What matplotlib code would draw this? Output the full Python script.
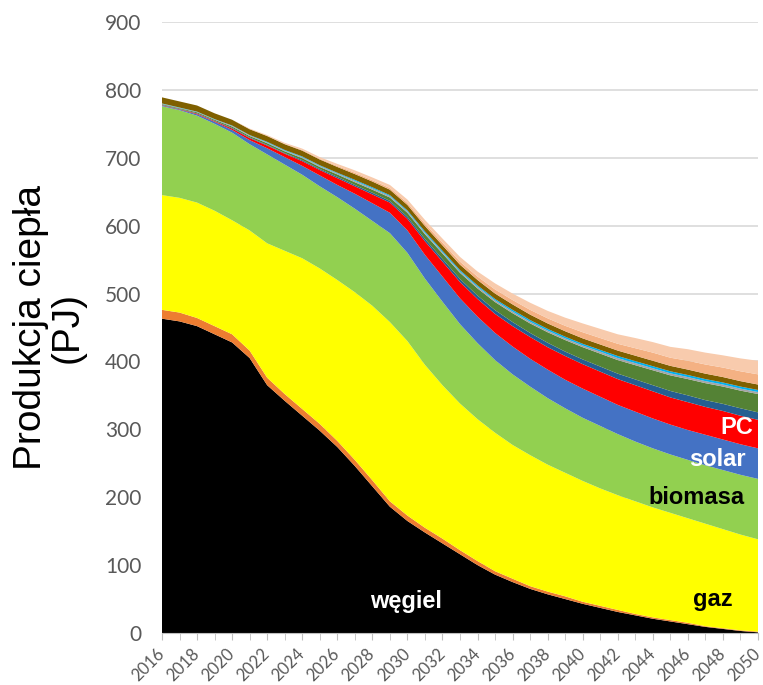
import numpy as np
import matplotlib.pyplot as plt

years = list(range(2016, 2051))

wegiel = [463, 459, 452, 440, 428, 405, 365, 342, 320, 298, 274, 246, 216, 186, 165,
          148, 132, 116, 100, 86, 75, 65, 57, 50, 43, 37, 31, 26, 21, 17, 13, 9, 6, 3, 1]
inne_wegiel = [13, 13, 12, 12, 12, 11, 11, 10, 10, 10, 9, 9, 9, 8, 8,
               7, 7, 6, 6, 5, 5, 4, 4, 4, 3, 3, 3, 2, 2, 2, 2, 1, 1, 1, 1]
# cumulative tops
gaz_top = [645, 641, 634, 622, 608, 593, 574, 563, 552, 537, 520, 502, 482, 458, 430,
           395, 365, 338, 315, 295, 277, 262, 248, 236, 224, 213, 203, 194, 185, 177,
           169, 161, 153, 145, 138]
biomasa_top = [776, 770, 762, 750, 737, 720, 705, 690, 675, 658, 642, 625, 607, 589, 560,
               522, 488, 455, 427, 402, 381, 363, 346, 331, 317, 305, 293, 282, 272, 263,
               255, 247, 240, 233, 227]
solar = [1, 1, 2, 3, 4, 6, 9, 11, 13, 16, 18, 22, 26, 30, 33,
         35, 37, 38, 39, 40, 41, 41, 42, 42, 43, 43, 43, 44, 44, 44, 44, 45, 45, 45, 45]
pc = [0.5, 0.5, 1, 1, 2, 3, 4, 5, 7, 8, 10, 11, 13, 15, 17,
      20, 22, 24, 26, 28, 30, 32, 33, 35, 36, 37, 38, 39, 40, 40, 41, 41, 42, 42, 42]
inne1 = [0.5, 0.5, 0.5, 0.5, 1, 1, 1, 1, 1.5, 1.5, 2, 2, 2.5, 2.5, 3,
         3.5, 4, 4.5, 5, 5.5, 6, 6, 6.5, 6.5, 7, 7.5, 8, 8.5, 9, 9.5, 10, 10, 10.5, 11, 11]
inne2 = [1, 1, 1.5, 1.5, 2, 2, 2.5, 2.5, 3, 3, 3.5, 4, 4.5, 5, 6,
         7, 8, 9, 10.5, 12, 13, 14, 15.5, 17, 18, 19, 20, 21, 22, 23, 24, 25, 25.5, 26, 27]
inne3 = [0.5, 0.5, 0.5, 0.5, 1, 1, 1, 1, 1.5, 1.5, 1.5, 2, 2, 2, 2,
         2, 2, 2, 2.5, 2.5, 2.5, 2.5, 2.5, 2.5, 2.5, 3, 3, 3, 3, 3, 3, 3, 3, 3, 3]
inne4 = [0.5, 0.5, 0.5, 0.5, 0.5, 0.5, 1, 1, 1, 1, 1, 1.5, 1.5, 1.5, 1.5,
         2, 2, 2, 2, 2, 2.5, 2.5, 2.5, 2.5, 2.5, 2.5, 3, 3, 3, 3, 3, 3, 3, 3, 3]
inne5 = [9, 9, 9, 8.5, 8.5, 8.5, 8.5, 8.5, 8.5, 8.5, 8.5, 8.5, 8.5, 8, 8,
         8, 8, 8, 8, 8, 8, 8, 8, 8, 8, 8, 8, 8, 8, 8, 8, 8, 8, 8, 8]
inne6 = [0, 0, 0, 0, 0, 0.5, 0.5, 0.5, 1, 1, 1.5, 2, 2, 2.5, 3,
         3.5, 4, 4.5, 5, 6, 6.5, 7, 7.5, 8, 9, 9.5, 10, 11, 12, 12, 13, 13.5, 14, 14.5, 15]
inne7 = [0, 0, 0, 0, 0, 0.5, 1, 1.5, 2, 2.5, 3, 3.5, 4, 4.5, 5,
         5.5, 6, 7, 7.5, 9, 9.5, 10.5, 11, 12, 13, 13.5, 14, 15, 15.5, 16, 17, 17.5, 18, 19, 20]

w = np.array(wegiel)
o = np.array(inne_wegiel)
gaz = np.array(gaz_top) - w - o
biomasa = np.array(biomasa_top) - np.array(gaz_top)

colors = ['#000000', '#ED7D31', '#FFFF00', '#92D050', '#4472C4', '#FF0000',
          '#255E91', '#548235', '#A5A5A5', '#00B0F0', '#7F6000', '#F4B183', '#F8CBAD']

plt.rcParams['font.family'] = ['Lato', 'DejaVu Sans']

fig = plt.figure(figsize=(7.63, 6.85), dpi=100)
ax = fig.add_axes([162 / 763, 1 - 633 / 685, 596 / 763, 611 / 685])

ax.stackplot(years, w, o, gaz, biomasa, solar, pc, inne1, inne2, inne3, inne4,
             inne5, inne6, inne7, colors=colors, linewidth=0)

ax.set_xlim(2016, 2050)
ax.set_ylim(0, 900)
ax.set_yticks(range(0, 901, 100))
ax.set_xticks(range(2016, 2051, 2))
ax.set_xticks(years, minor=True)
ax.yaxis.grid(True, color='#D9D9D9', linewidth=1.2)
ax.set_axisbelow(True)
for s in ['top', 'right', 'left']:
    ax.spines[s].set_visible(False)
ax.spines['bottom'].set_color('#BFBFBF')
ax.spines['bottom'].set_zorder(5)
ax.tick_params(axis='y', length=0, pad=15, labelsize=15, labelcolor='#595959')
ax.tick_params(axis='x', which='both', length=5, color='#BFBFBF', labelsize=12,
               labelcolor='#595959', pad=8)
plt.setp(ax.get_xticklabels(), rotation=45, ha='right', va='center',
         rotation_mode='anchor')

ax.set_ylabel('Produkcja ciepła\n(PJ)', fontsize=28, family='Liberation Sans',
              linespacing=1.0, labelpad=14)

bold = dict(family='Liberation Sans', fontweight='bold', fontsize=17,
            ha='center', va='center')
ax.text(2029.9, 47, 'węgiel', color='white', **bold)
ax.text(2047.4, 50, 'gaz', color='black', **bold)
ax.text(2046.5, 200, 'biomasa', color='black', **bold)
ax.text(2047.7, 256, 'solar', color='white', **bold)
ax.text(2048.8, 302, 'PC', color='white', **bold)

fig.savefig('out.png', dpi=100)
